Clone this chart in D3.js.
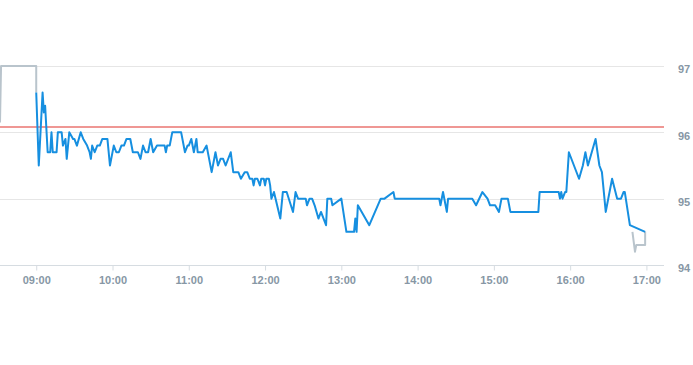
<!DOCTYPE html>
<html>
<head>
<meta charset="utf-8">
<script src="https://cdn.jsdelivr.net/npm/d3@7"></script>
<style>
  body { margin: 0; background: #fff; }
  svg { display: block; font-family: "Liberation Sans", Arial, sans-serif; }
</style>
</head>
<body>
<svg id="chart"></svg>
<script>
// regular session (blue)
const sessionTimes = [
  "09:00","09:02","09:05","09:06","09:07","09:09","09:11","09:12","09:13","09:16",
  "09:17","09:20","09:21","09:23","09:24","09:26","09:29","09:30","09:32","09:35",
  "09:37","09:40","09:42","09:43","09:44","09:46","09:48","09:50","09:52","09:56",
  "09:58","09:59","10:01","10:03","10:05","10:07","10:09","10:11","10:14","10:16",
  "10:20","10:22","10:24","10:26","10:28","10:30","10:32","10:35","10:37","10:41",
  "10:42","10:43","10:45","10:47","10:54","10:57","10:59","11:00","11:02","11:04",
  "11:06","11:07","11:11","11:14","11:18","11:21","11:23","11:25","11:27","11:29",
  "11:33","11:35","11:39","11:41","11:44","11:46","11:48","11:50","11:51","11:52",
  "11:54","11:56","11:57","11:59","12:00","12:01","12:03","12:04","12:05","12:07",
  "12:12","12:14","12:17","12:22","12:24","12:26","12:29","12:32","12:33","12:35",
  "12:37","12:39","12:42","12:44","12:48","12:49","12:52","12:53","13:00","13:04",
  "13:10","13:11","13:12","13:13","13:22","13:31","13:34","13:41","13:42","14:17",
  "14:18","14:20","14:23","14:24","14:43","14:46","14:51","14:55","14:57","15:01",
  "15:04","15:06","15:11","15:13","15:35","15:36","15:51","15:52","15:53","15:54",
  "15:56","15:57","15:59","16:07","16:10","16:12","16:14","16:20","16:23","16:25",
  "16:28","16:33","16:37","16:40","16:42","16:43","16:47","16:59"
];
const sessionPrices = [
  96.6, 95.5, 96.6, 96.3, 96.4, 95.7, 95.7, 96.0, 95.7, 95.7,
  96.0, 96.0, 95.8, 95.9, 95.6, 96.0, 95.9, 95.9, 95.8, 96.0,
  95.9, 95.8, 95.7, 95.6, 95.8, 95.7, 95.8, 95.8, 95.9, 95.9,
  95.5, 95.6, 95.8, 95.7, 95.7, 95.8, 95.8, 95.9, 95.9, 95.7,
  95.7, 95.6, 95.8, 95.7, 95.7, 95.9, 95.7, 95.8, 95.8, 95.8,
  95.7, 95.8, 95.8, 96.0, 96.0, 95.7, 95.8, 95.8, 95.9, 95.7,
  95.9, 95.7, 95.7, 95.8, 95.4, 95.7, 95.5, 95.6, 95.6, 95.5,
  95.7, 95.4, 95.4, 95.3, 95.4, 95.4, 95.3, 95.3, 95.2, 95.3,
  95.3, 95.2, 95.3, 95.3, 95.2, 95.3, 95.3, 95.2, 95.0, 95.1,
  94.7, 95.1, 95.1, 94.8, 95.1, 95.0, 95.0, 95.0, 94.9, 95.0,
  95.0, 94.9, 94.7, 94.8, 94.6, 95.0, 95.0, 94.9, 95.0, 94.5,
  94.5, 94.7, 94.5, 94.9, 94.6, 95.0, 95.0, 95.1, 95.0, 95.0,
  94.9, 95.1, 94.8, 95.0, 95.0, 94.9, 95.1, 95.0, 94.9, 94.9,
  94.8, 95.0, 95.0, 94.8, 94.8, 95.1, 95.1, 95.0, 95.1, 95.0,
  95.1, 95.1, 95.7, 95.3, 95.5, 95.7, 95.5, 95.9, 95.5, 95.4,
  94.8, 95.3, 95.0, 95.0, 95.1, 95.1, 94.6, 94.5
];

// pre / post market (grey)
const preTimes = ["08:31:30", "08:32:20", "09:00", "09:00"];
const prePrices = [96.15, 97.0, 97.0, 96.6];
const postTimes = ["16:49", "16:51", "16:52", "16:59", "16:59"];
const postPrices = [94.5, 94.2, 94.3, 94.3, 94.5];

const referencePrice = 96.08;
const priceTicks = [94, 95, 96, 97];
const hourTicks = ["09:00","10:00","11:00","12:00","13:00","14:00","15:00","16:00","17:00"];

const width = 693, height = 365;
const plotRight = 664, plotTop = 66, plotBottom = 265;

const parseTime = d3.timeParse("%H:%M:%S");
const t = s => parseTime(s.length === 5 ? s + ":00" : s);

const x = d3.scaleTime()
    .domain([t("08:31:30"), t("17:13:50")])
    .range([0, plotRight]);
const y = d3.scaleLinear()
    .domain([94, 97])
    .range([plotBottom, plotTop]);

const svg = d3.select("#chart")
    .attr("width", width)
    .attr("height", height)
    .attr("viewBox", [0, 0, width, height]);

svg.append("defs").append("clipPath")
    .attr("id", "plot-clip")
  .append("rect")
    .attr("x", 0)
    .attr("y", 0)
    .attr("width", plotRight)
    .attr("height", height);

// grid
svg.append("g")
  .selectAll("line")
  .data(priceTicks)
  .join("line")
    .attr("x1", 0)
    .attr("x2", plotRight)
    .attr("y1", d => Math.round(y(d)) + 0.5)
    .attr("y2", d => Math.round(y(d)) + 0.5)
    .attr("stroke", d => d === 94 ? "#d6dce1" : "#e6e6e6")
    .attr("stroke-width", 1);

// price labels on the right
svg.append("g")
    .attr("transform", `translate(${plotRight},0)`)
    .call(d3.axisRight(y).tickValues(priceTicks).tickSize(0).tickPadding(14).tickFormat(d3.format("d")))
    .call(g => g.select(".domain").remove())
    .call(g => g.selectAll("text")
        .attr("dy", "0.62em")
        .attr("fill", "#8797a5")
        .style("font-size", "11px")
        .style("font-weight", "bold"));

// time axis
svg.append("g")
    .attr("transform", `translate(0,${plotBottom + 0.5})`)
    .call(d3.axisBottom(x)
        .tickValues(hourTicks.map(t))
        .tickFormat(d3.timeFormat("%H:%M"))
        .tickSize(5)
        .tickPadding(6)
        .tickSizeOuter(0))
    .call(g => g.select(".domain").remove())
    .call(g => g.selectAll(".tick line").attr("stroke", "#d6dce1"))
    .call(g => g.selectAll("text")
        .attr("fill", "#8797a5")
        .style("font-size", "11px")
        .style("font-weight", "bold"));

// reference line
svg.append("line")
    .attr("x1", 0)
    .attr("x2", plotRight)
    .attr("y1", Math.round(y(referencePrice)))
    .attr("y2", Math.round(y(referencePrice)))
    .attr("stroke", "#e0302a")
    .attr("stroke-width", 1.2);

const line = d3.line()
    .x(d => x(d[0]))
    .y(d => y(d[1]));

const lines = svg.append("g")
    .attr("clip-path", "url(#plot-clip)")
    .attr("fill", "none")
    .attr("stroke-width", 2)
    .attr("stroke-linejoin", "round");

lines.append("path")
    .datum(d3.zip(preTimes.map(t), prePrices))
    .attr("stroke", "#b9c4cc")
    .attr("d", line);

lines.append("path")
    .datum(d3.zip(postTimes.map(t), postPrices))
    .attr("stroke", "#b9c4cc")
    .attr("d", line);

lines.append("path")
    .datum(d3.zip(sessionTimes.map(t), sessionPrices))
    .attr("stroke", "#168fe0")
    .attr("d", line);
</script>
</body>
</html>
